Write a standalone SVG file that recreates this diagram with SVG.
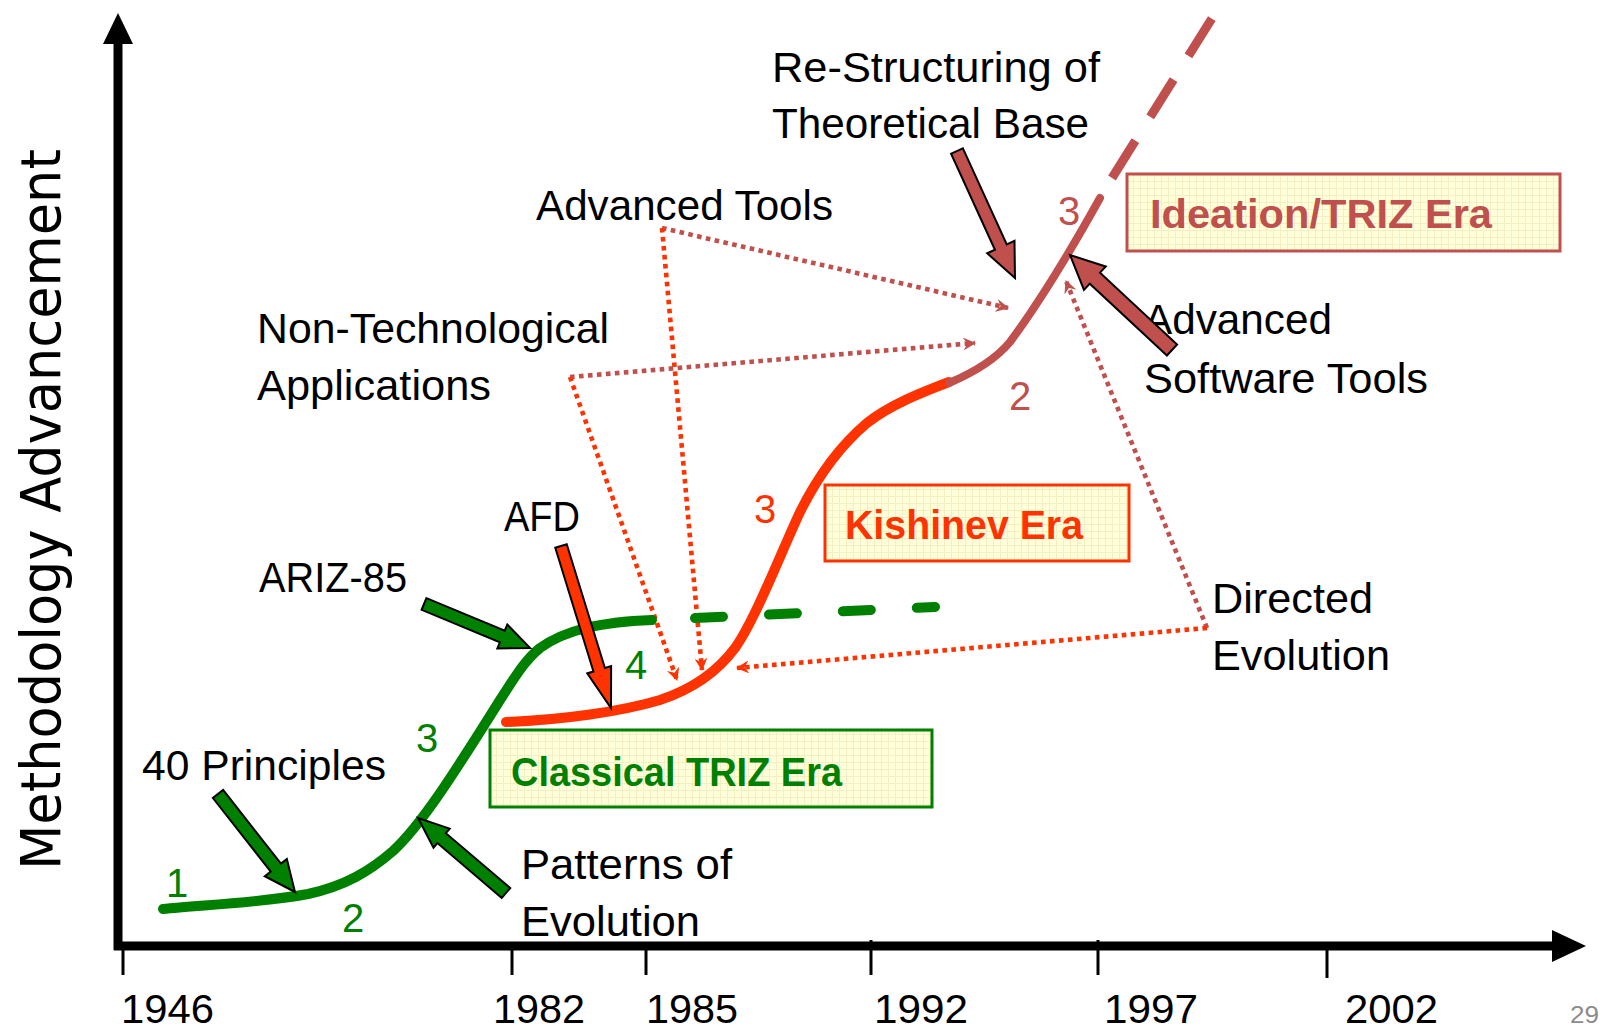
<svg xmlns="http://www.w3.org/2000/svg" width="1609" height="1029" viewBox="0 0 1609 1029">
<style>
.t{font-family:"Liberation Sans",Arial,sans-serif;font-size:42px;fill:#000}
.n{font-family:"Liberation Sans",Arial,sans-serif;font-size:40px}
.b{font-family:"Liberation Sans",Arial,sans-serif;font-size:40px;font-weight:bold}
.yr{font-family:"Liberation Sans",Arial,sans-serif;font-size:40px;fill:#000}
.g{fill:#008000}.r{fill:#FF3300}.br{fill:#C0504D}
.dotb{fill:none;stroke:#C0504D;stroke-width:4.6;stroke-dasharray:4.6 4.4}
.dotr{fill:none;stroke:#FF3300;stroke-width:4.6;stroke-dasharray:4.6 4.4}
.blk{stroke:#000;stroke-width:2;stroke-linejoin:miter}
.box{stroke-width:3;fill:url(#grid)}
</style>
<defs>
<pattern id="grid" width="7" height="7" patternUnits="userSpaceOnUse">
<rect width="7" height="7" fill="#FFFFDA"/>
<path d="M6.5,0 V7 M0,6.5 H7" stroke="#F4EFC2" stroke-width="1"/>
</pattern>
<marker id="mb" viewBox="0 0 12 12" refX="11" refY="6" markerWidth="13" markerHeight="13" markerUnits="userSpaceOnUse" orient="auto">
<path d="M0,0 L12,6 L0,12 L4,6 Z" fill="#C0504D"/>
</marker>
<marker id="mr" viewBox="0 0 12 12" refX="11" refY="6" markerWidth="13" markerHeight="13" markerUnits="userSpaceOnUse" orient="auto">
<path d="M0,0 L12,6 L0,12 L4,6 Z" fill="#FF3300"/>
</marker>
</defs>
<rect width="1609" height="1029" fill="#fff"/>

<g id="axes">
<line x1="118" y1="950" x2="118" y2="40" stroke="#000" stroke-width="9"/>
<polygon points="118,13 133,44 103,44" fill="#000"/>
<line x1="114" y1="946" x2="1556" y2="946" stroke="#000" stroke-width="9"/>
<polygon points="1586,946 1552,962 1552,930" fill="#000"/>
<g stroke="#000" stroke-width="3">
<line x1="123" y1="946" x2="123" y2="975"/>
<line x1="512" y1="946" x2="512" y2="975"/>
<line x1="646" y1="946" x2="646" y2="975"/>
<line x1="871" y1="940" x2="871" y2="975"/>
<line x1="1098" y1="940" x2="1098" y2="975"/>
<line x1="1327" y1="946" x2="1327" y2="978"/>
</g>
<text x="60" y="870" transform="rotate(-90 60 870)" style="font-family:'DejaVu Sans',Verdana,sans-serif;font-size:56px" textLength="721" lengthAdjust="spacingAndGlyphs">Methodology Advancement</text>
<text class="yr" x="121" y="1023" textLength="93" lengthAdjust="spacingAndGlyphs">1946</text>
<text class="yr" x="493" y="1023" textLength="92" lengthAdjust="spacingAndGlyphs">1982</text>
<text class="yr" x="646" y="1023" textLength="92" lengthAdjust="spacingAndGlyphs">1985</text>
<text class="yr" x="874" y="1023" textLength="94" lengthAdjust="spacingAndGlyphs">1992</text>
<text class="yr" x="1104" y="1023" textLength="94" lengthAdjust="spacingAndGlyphs">1997</text>
<text class="yr" x="1345" y="1023" textLength="93" lengthAdjust="spacingAndGlyphs">2002</text>
<text x="1570" y="1023" style="font-family:'Liberation Sans',Arial,sans-serif;font-size:24px;fill:#8C8C8C" textLength="29" lengthAdjust="spacingAndGlyphs">29</text>
</g>

<g id="box-ideation">
<rect class="box" x="1127" y="174" width="433" height="77" stroke="#C0504D"/>
<text class="b br" x="1150" y="228" textLength="342" lengthAdjust="spacingAndGlyphs">Ideation/TRIZ Era</text>
</g>
<g id="box-kishinev">
<rect class="box" x="825" y="485" width="304" height="76" stroke="#FF3300"/>
<text class="b r" x="845" y="539" textLength="238" lengthAdjust="spacingAndGlyphs">Kishinev Era</text>
</g>
<g id="box-classical">
<rect class="box" x="490" y="730" width="442" height="77" stroke="#008000"/>
<text class="b g" x="511" y="786" textLength="331" lengthAdjust="spacingAndGlyphs">Classical TRIZ Era</text>
</g>

<g id="connectors">
<path class="dotb" d="M662,228 L1008,308" marker-end="url(#mb)"/>
<path class="dotr" d="M662,228 L702,670" marker-end="url(#mr)"/>
<path class="dotb" d="M570,377 L975,343" marker-end="url(#mb)"/>
<path class="dotr" d="M570,377 L677,680" marker-end="url(#mr)"/>
<path class="dotb" d="M1207,628 L1066,281" marker-end="url(#mb)"/>
<path class="dotr" d="M1207,628 L737,668" marker-end="url(#mr)"/>
</g>

<g id="curves">
<path id="curve-classical" d="M163,909 C200,905 260,903 308,894 C345,886 370,871 393,851 C420,826 450,780 500,700 C515,677 525,660 540,648 C565,630 600,622 652,620" fill="none" stroke="#008000" stroke-width="10" stroke-linecap="round"/>
<path id="curve-kishinev" d="M506,722 C560,720 620,712 660,700 C690,690 715,675 735,648 C755,620 780,555 800,512 C815,482 835,450 867,423 C890,405 920,393 949,382" fill="none" stroke="#FF3300" stroke-width="10" stroke-linecap="round"/>
<path id="curve-classical-future" d="M695,618 L935,607" fill="none" stroke="#008000" stroke-width="10" stroke-linecap="round" stroke-dasharray="28 46"/>
<path id="curve-ideation" d="M949,383 C975,372 995,360 1010,342 C1030,315 1060,270 1100,198" fill="none" stroke="#C0504D" stroke-width="8" stroke-linecap="round"/>
<path id="curve-ideation-future" d="M1112,178 L1226,-4" fill="none" stroke="#C0504D" stroke-width="9" stroke-dasharray="44 28"/>
</g>

<g id="labels">
<text class="t" x="772" y="82" textLength="328" lengthAdjust="spacingAndGlyphs">Re-Structuring of</text>
<text class="t" x="772" y="138" textLength="317" lengthAdjust="spacingAndGlyphs">Theoretical Base</text>
<text class="t" x="536" y="220" textLength="297" lengthAdjust="spacingAndGlyphs">Advanced Tools</text>
<text class="t" x="257" y="343" textLength="352" lengthAdjust="spacingAndGlyphs">Non-Technological</text>
<text class="t" x="257" y="400" textLength="234" lengthAdjust="spacingAndGlyphs">Applications</text>
<text class="t" x="504" y="531" textLength="76" lengthAdjust="spacingAndGlyphs">AFD</text>
<text class="t" x="259" y="592" textLength="148" lengthAdjust="spacingAndGlyphs">ARIZ-85</text>
<text class="t" x="142" y="780" textLength="244" lengthAdjust="spacingAndGlyphs">40 Principles</text>
<text class="t" x="521" y="879" textLength="211" lengthAdjust="spacingAndGlyphs">Patterns of</text>
<text class="t" x="521" y="936" textLength="179" lengthAdjust="spacingAndGlyphs">Evolution</text>
<text class="t" x="1212" y="613" textLength="161" lengthAdjust="spacingAndGlyphs">Directed</text>
<text class="t" x="1212" y="670" textLength="178" lengthAdjust="spacingAndGlyphs">Evolution</text>
<text class="t" x="1144" y="334" textLength="188" lengthAdjust="spacingAndGlyphs">Advanced</text>
<text class="t" x="1144" y="393" textLength="284" lengthAdjust="spacingAndGlyphs">Software Tools</text>
<text class="n g" x="166" y="897">1</text>
<text class="n g" x="342" y="932">2</text>
<text class="n g" x="416" y="752">3</text>
<text class="n g" x="625" y="679">4</text>
<text class="n r" x="754" y="523">3</text>
<text class="n br" x="1009" y="410">2</text>
<text class="n br" x="1058" y="225">3</text>
</g>

<g id="block-arrows">
<polygon id="arrow-restructuring" class="blk" fill="#C0504D" transform="translate(957,151) rotate(65.46)" points="0,-6.5 105.6,-6.5 105.6,-15 139.6,0 105.6,15 105.6,6.5 0,6.5"/>
<polygon id="arrow-software" class="blk" fill="#C0504D" transform="translate(1172,350) rotate(-137.03)" points="0,-7.5 105.4,-7.5 105.4,-16 139.4,0 105.4,16 105.4,7.5 0,7.5"/>
<polygon id="arrow-ariz" class="blk" fill="#008000" transform="translate(424,604) rotate(22.54)" points="0,-6.3 84.8,-6.3 84.8,-13 114.8,0 84.8,13 84.8,6.3 0,6.3"/>
<polygon id="arrow-afd" class="blk" fill="#FF3300" transform="translate(561,546) rotate(72.85)" points="0,-6 129.5,-6 129.5,-12.5 169.5,0 129.5,12.5 129.5,6 0,6"/>
<polygon id="arrow-principles" class="blk" fill="#008000" transform="translate(218,794) rotate(51.84)" points="0,-6.5 93.6,-6.5 93.6,-14 124.6,0 93.6,14 93.6,6.5 0,6.5"/>
<polygon id="arrow-patterns" class="blk" fill="#008000" transform="translate(506,893) rotate(-139.56)" points="0,-6.5 84.6,-6.5 84.6,-12.5 115.6,0 84.6,12.5 84.6,6.5 0,6.5"/>
</g>
</svg>
